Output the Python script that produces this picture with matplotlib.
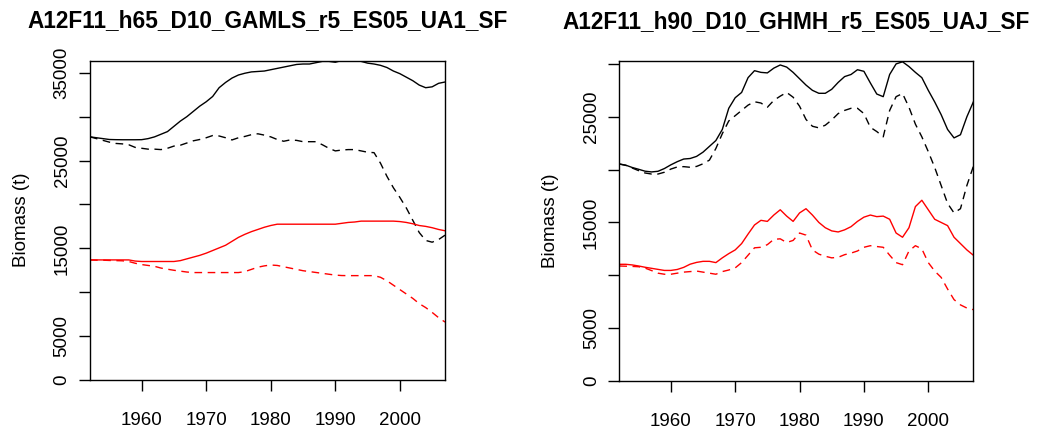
import matplotlib
matplotlib.use("Agg")
import matplotlib.pyplot as plt

plt.rcParams['font.family'] = ['Liberation Sans', 'DejaVu Sans']

# Years shared by both panels
years = list(range(1952, 2008))

# Left panel: A12F11_h65_D10_GAMLS_r5_ES05_UA1_SF
left_black_solid = [27700, 27600, 27500, 27400, 27380, 27370, 27370, 27370, 27380, 27500,
                    27700, 28000, 28300, 28900, 29500, 30000, 30600, 31200, 31700, 32300,
                    33300, 33900, 34400, 34750, 34950, 35100, 35150, 35200, 35350, 35500,
                    35650, 35800, 35950, 36000, 36000, 36150, 36300, 36300, 36200, 36400,
                    36350, 36450, 36300, 36100, 36000, 35850, 35600, 35200, 34900, 34500,
                    34100, 33600, 33300, 33400, 33800, 33950]
left_black_dashed = [27700, 27500, 27300, 27100, 26950, 26900, 26800, 26500, 26400, 26300,
                     26300, 26250, 26400, 26650, 26750, 27000, 27250, 27400, 27600, 27850,
                     27800, 27600, 27350, 27600, 27750, 27950, 28050, 27900, 27700, 27400,
                     27200, 27350, 27300, 27150, 27150, 27150, 26800, 26400, 26100, 26200,
                     26250, 26250, 26100, 25950, 25900, 24700, 23200, 21900, 20800, 19600,
                     18200, 16800, 15900, 15700, 16000, 16500]
left_red_solid = [13680, 13680, 13680, 13680, 13680, 13680, 13680, 13550, 13500, 13500,
                  13500, 13500, 13500, 13500, 13600, 13800, 14000, 14200, 14450, 14750,
                  15050, 15350, 15800, 16250, 16600, 16900, 17150, 17400, 17600, 17750,
                  17750, 17750, 17750, 17750, 17750, 17750, 17750, 17750, 17750, 17850,
                  17950, 18000, 18100, 18100, 18100, 18100, 18100, 18100, 18050, 17950,
                  17800, 17600, 17500, 17350, 17150, 17000]
left_red_dashed = [13680, 13650, 13650, 13620, 13600, 13580, 13500, 13300, 13150, 13050,
                   12950, 12750, 12620, 12500, 12400, 12300, 12240, 12240, 12240, 12240,
                   12240, 12240, 12240, 12240, 12350, 12600, 12850, 13000, 13100, 13050,
                   12900, 12750, 12600, 12450, 12350, 12250, 12150, 12050, 11950, 11900,
                   11890, 11890, 11890, 11890, 11890, 11700, 11300, 10800, 10300, 9800,
                   9300, 8700, 8250, 7700, 7100, 6600]

# Right panel: A12F11_h90_D10_GHMH_r5_ES05_UAJ_SF
right_black_solid = [20530, 20420, 20200, 20030, 19850, 19780, 19840, 20100, 20450, 20750,
                     21000, 21050, 21250, 21650, 22200, 22750, 23800, 25800, 26800, 27300,
                     28700, 29360, 29200, 29150, 29600, 29900, 29700, 29200, 28600, 28000,
                     27500, 27220, 27220, 27600, 28250, 28800, 29000, 29450, 29300, 28200,
                     27150, 26900, 29000, 30000, 30200, 29750, 29200, 28700, 27500, 26400,
                     25200, 23800, 23000, 23300, 25000, 26400]
right_black_dashed = [20530, 20400, 20150, 19900, 19680, 19580, 19580, 19750, 20050, 20250,
                      20280, 20220, 20300, 20550, 20900, 22000, 23400, 24600, 25100, 25600,
                      26100, 26420, 26300, 25900, 26550, 26950, 27300, 26850, 26000, 24750,
                      24100, 23950, 24200, 24700, 25300, 25600, 25800, 25800, 25300, 24000,
                      23600, 23100, 25600, 26900, 27200, 25900, 24300, 23100, 21700, 20200,
                      18500, 16800, 15900, 16300, 18500, 20300]
right_red_solid = [11040, 11040, 10980, 10880, 10760, 10660, 10560, 10460, 10460, 10550,
                   10750, 11050, 11220, 11320, 11320, 11200, 11650, 12050, 12400, 13000,
                   13900, 14760, 15200, 15100, 15700, 16200, 15600, 15100, 15900, 16300,
                   15700, 15000, 14500, 14200, 14100, 14300, 14600, 15100, 15500, 15700,
                   15550, 15600, 15300, 14000, 13600, 14500, 16500, 17100, 16200, 15300,
                   15000, 14700, 13600, 13000, 12400, 11900]
right_red_dashed = [10880, 10860, 10840, 10810, 10680, 10450, 10200, 10100, 10100, 10200,
                    10300, 10350, 10400, 10300, 10200, 10100, 10350, 10500, 10700, 11200,
                    11900, 12600, 12650, 12900, 13400, 13450, 13100, 13300, 14000, 13800,
                    12400, 12000, 11800, 11650, 11700, 11950, 12100, 12300, 12650, 12800,
                    12720, 12650, 11900, 11200, 11000, 12300, 12800, 12500, 11200, 10400,
                    9800, 8700, 7700, 7200, 6900, 6750]

x_ticks = [1960, 1970, 1980, 1990, 2000]
left_yticks = [0, 5000, 10000, 15000, 20000, 25000, 30000, 35000]
left_ylabels = ['0', '5000', '', '15000', '', '25000', '', '35000']
right_yticks = [0, 5000, 10000, 15000, 20000, 25000, 30000]
right_ylabels = ['0', '5000', '', '15000', '', '25000', '']

fig = plt.figure(figsize=(10.43, 4.30), dpi=100)
ax1 = fig.add_axes([0.0863, 0.1163, 0.3404, 0.743])
ax2 = fig.add_axes([0.5938, 0.1140, 0.3394, 0.744])

panels = [
    (ax1, 'A12F11_h65_D10_GAMLS_r5_ES05_UA1_SF', left_black_solid, left_black_dashed,
     left_red_solid, left_red_dashed, 36400, left_yticks, left_ylabels),
    (ax2, 'A12F11_h90_D10_GHMH_r5_ES05_UAJ_SF', right_black_solid, right_black_dashed,
     right_red_solid, right_red_dashed, 30270, right_yticks, right_ylabels),
]

fs = 13.5
dash = (5.5, 4)
for ax, title, bs, bd, rs, rd, ytop, yt, yl in panels:
    ax.plot(years, bs, color='black', lw=1.0)
    ax.plot(years, bd, color='black', lw=1.0, dashes=dash)
    ax.plot(years, rs, color='#ff0000', lw=1.0)
    ax.plot(years, rd, color='#ff0000', lw=1.0, dashes=dash)
    ax.set_xlim(1952, 2007)
    ax.set_ylim(0, ytop)
    ax.set_xticks(x_ticks)
    ax.set_xticklabels([str(t) for t in x_ticks], fontsize=fs)
    ax.set_yticks(yt)
    ax.set_yticklabels(yl, fontsize=fs, rotation=90, va='center')
    ax.tick_params(axis='x', length=8, width=1.0, pad=15)
    ax.tick_params(axis='y', length=8, width=1.0, pad=6)
    for s in ax.spines.values():
        s.set_linewidth(1.0)
    ax.set_ylabel('Biomass (t)', fontsize=fs, labelpad=17)
    ax.set_title(title, fontsize=16.3, fontweight='bold', pad=24)

fig.savefig('out.png', dpi=100)
